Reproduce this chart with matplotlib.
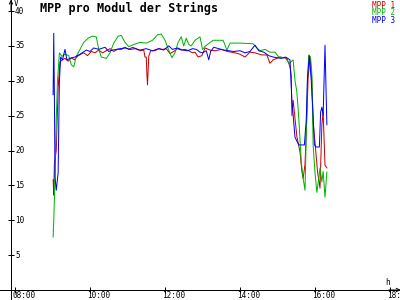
import matplotlib
matplotlib.use("Agg")
import matplotlib.pyplot as plt
import numpy as np

# ---- data (minutes since midnight, volts) ----
red_t = [541, 542, 543, 546, 549, 552, 556, 560, 565, 570, 575, 580, 585, 590, 596, 602, 608, 614,
         620, 626, 632, 638, 644, 650, 656, 662, 668, 674, 680, 686, 688, 690, 691, 692, 694, 697,
         704, 710, 716, 722, 728, 734, 740, 746, 752, 758, 764, 768, 773, 779, 784, 792, 800, 810,
         820, 832, 840, 848, 856, 864, 875, 883, 888, 893, 904, 915, 920, 922, 923, 925, 931, 936,
         939, 941, 944, 947, 949, 952, 955, 957, 960, 964, 968, 971, 973, 976, 979]
red_v = [15.8, 13.6, 18.0, 20.0, 29.0, 32.7, 33.0, 33.2, 32.8, 33.3, 33.0, 33.5, 33.8, 34.0, 33.6, 34.2, 34.0, 34.4,
         34.0, 34.3, 34.6, 34.2, 34.5, 34.5, 34.8, 34.5, 34.8, 34.6, 34.3, 34.4, 33.4, 33.4, 31.0, 29.4, 33.5, 34.3,
         34.3, 34.6, 34.5, 34.6, 33.9, 34.2, 34.6, 34.4, 34.5, 34.3, 34.0, 34.1, 33.4, 33.6, 34.7, 34.4, 34.3, 34.5,
         34.2, 34.0, 33.8, 33.4, 34.1, 34.0, 33.7, 33.7, 32.5, 33.0, 33.4, 33.2, 32.0, 30.8, 25.0, 27.2, 22.0, 19.8,
         17.0, 16.0, 18.0, 25.0, 30.4, 33.5, 30.0, 24.0, 21.2, 17.0, 14.6, 23.7, 25.5, 17.9, 17.5]

green_t = [541, 542, 543, 546, 548, 551, 555, 560, 566, 570, 574, 578, 584, 590, 597, 604, 610, 614,
           618, 626, 632, 638, 645, 650, 656, 662, 670, 680, 690, 700, 708, 714, 720, 726, 731, 736,
           741, 746, 750, 754, 758, 762, 768, 776, 780, 785, 797, 813, 819, 824, 840, 861, 866, 872,
           880, 888, 896, 902, 912, 919, 925, 928, 931, 934, 938, 941, 944, 946, 948, 950, 953, 955,
           957, 960, 963, 966, 968, 971, 973, 976, 979]
green_v = [7.6, 10.0, 12.9, 24.4, 30.0, 34.0, 33.5, 33.8, 33.6, 32.3, 32.0, 33.5, 34.5, 35.5, 36.1, 36.4, 36.3, 34.5,
           33.4, 33.2, 34.0, 35.4, 36.4, 36.5, 35.5, 34.9, 35.2, 35.5, 35.4, 35.8, 36.6, 36.7, 35.8, 34.4, 33.3, 34.0,
           35.5, 36.3, 35.0, 36.1, 35.2, 35.0, 35.8, 36.3, 34.5, 35.0, 35.8, 35.8, 34.4, 35.4, 35.4, 35.3, 34.8, 34.3,
           34.5, 34.1, 34.1, 33.4, 33.3, 32.5, 33.0, 30.0, 28.4, 24.7, 18.4, 16.0, 14.3, 22.0, 30.0, 33.7, 33.2, 31.0,
           20.8, 16.8, 14.0, 16.0, 17.5, 15.5, 17.0, 13.3, 16.9]

blue_t = [541, 542, 543, 544, 546, 549, 551, 553, 556, 560, 563, 568, 576, 584, 594, 600, 606, 614,
          624, 630, 636, 648, 656, 664, 672, 680, 690, 700, 710, 718, 726, 732, 740, 748, 756, 764,
          770, 776, 780, 786, 790, 793, 798, 806, 814, 822, 830, 840, 848, 856, 864, 870, 878, 886,
          893, 900, 906, 913, 920, 923, 928, 934, 943, 946, 948, 951, 954, 957, 959, 962, 967, 969,
          971, 973, 976, 979]
blue_v = [28.0, 36.8, 28.0, 16.2, 14.3, 16.8, 29.8, 33.4, 33.0, 34.5, 33.0, 33.2, 33.4, 33.8, 34.4, 34.2, 34.7, 34.5,
          34.8, 34.2, 34.4, 34.6, 34.7, 34.5, 34.6, 34.4, 34.6, 34.3, 34.6, 34.4, 35.0, 34.5, 34.7, 34.4, 34.3, 34.6,
          34.5, 34.1, 34.0, 34.3, 33.0, 34.2, 34.8, 34.6, 34.4, 34.3, 34.2, 34.3, 34.0, 34.2, 35.1, 34.3, 34.1, 33.6,
          33.4, 33.3, 33.2, 33.4, 33.0, 27.2, 21.9, 20.8, 20.8, 24.4, 30.5, 33.6, 30.0, 25.0, 20.8, 20.5, 20.5, 25.5,
          26.2, 25.0, 35.1, 23.7]

series_names = ["MPP 1", "MPP 2", "MPP 3"]
series_colors = ["#c80000", "#00b400", "#0000ff"]
x_ticks = [8, 10, 12, 14, 16, 18]
x_tick_labels = ["08:00", "10:00", "12:00", "14:00", "16:00", "18:00"]
y_ticks = [5, 10, 15, 20, 25, 30, 35, 40]
title = "MPP pro Modul der Strings"

# ---- figure ----
mono = "DejaVu Sans Mono"
fig = plt.figure(figsize=(4, 3), dpi=100)
ax = fig.add_axes([0, 0, 1, 1])
px_per_h = 37.5
px_per_v = 6.975
ax.set_xlim(8 - 15 / px_per_h, 8 + 385 / px_per_h)
ax.set_ylim(-10 / px_per_v, 290 / px_per_v)
x0 = 8 + (11 - 15) / px_per_h

for t, v, c in zip([red_t, green_t, blue_t], [red_v, green_v, blue_v], series_colors):
    ax.plot(np.array(t) / 60.0, v, color=c, lw=0.72, antialiased=True, zorder=3)

for s in ["top", "right"]:
    ax.spines[s].set_visible(False)
ax.spines["left"].set_position(("data", x0))
ax.spines["bottom"].set_position(("data", 0))
for s in ["left", "bottom"]:
    ax.spines[s].set_linewidth(0.72)
ax.set_xticks(x_ticks)
ax.set_yticks(y_ticks)
ax.tick_params(direction="inout", length=4.3, width=0.72, labelbottom=False, labelleft=False)

ytop = 290 / px_per_v
xright = 8 + 385 / px_per_h
ax.annotate("", xy=(x0, ytop + 0.05), xytext=(x0, ytop - 1.5),
            arrowprops=dict(arrowstyle="->", lw=0.72, shrinkA=0, shrinkB=0, mutation_scale=6))
ax.annotate("", xy=(xright + 0.02, 0), xytext=(xright - 0.3, 0),
            arrowprops=dict(arrowstyle="->", lw=0.72, shrinkA=0, shrinkB=0, mutation_scale=6), annotation_clip=False)

for v in y_ticks:
    ax.text(8.0, v, str(v), ha="left", va="center", fontsize=5.5, family=mono)
for h, lab in zip(x_ticks, x_tick_labels):
    ax.text(h - 3 / px_per_h, -1.2 / px_per_v, lab, ha="left", va="top", fontsize=5.5, family=mono, clip_on=False)

ax.text(8 + (385 - 15) / px_per_h, 1.1, "h", ha="left", va="center", fontsize=5.5, family=mono)
ax.text(8 + 1 / px_per_h, (290 - 3) / px_per_v, "V", ha="center", va="center", fontsize=5.5, family=mono)
ax.text(8 + (40 - 15) / px_per_h, (290 - 2) / px_per_v, title, ha="left", va="top",
        fontsize=8.5, family=mono, fontweight="bold")

for i, (name, c) in enumerate(zip(series_names, series_colors)):
    ypx = 5 + 7.5 * i
    ax.text(8 + (395 - 15) / px_per_h, (290 - ypx) / px_per_v, name, ha="right", va="center",
            fontsize=5.5, family=mono, color=c)

fig.savefig("out.png", dpi=100)
